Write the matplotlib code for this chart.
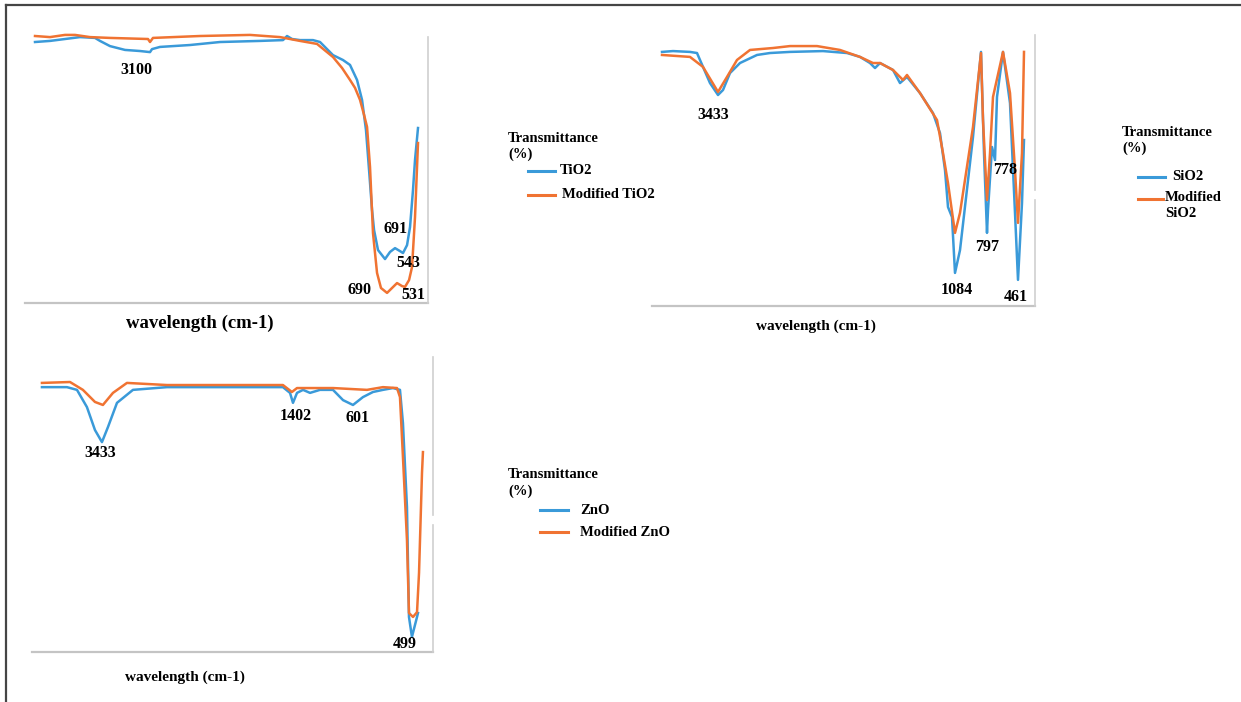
import matplotlib
matplotlib.use("Agg")
import matplotlib.pyplot as plt
from matplotlib.lines import Line2D

plt.rcParams['font.family'] = ['Liberation Serif', 'DejaVu Serif']
plt.rcParams['font.weight'] = 'bold'

BLUE = '#3a9ad9'
ORANGE = '#f07332'

# ---- TiO2 (wavenumber cm-1, transmittance %) ----
tio2_wn = [4000, 3859, 3718, 3577, 3436, 3389, 3295, 3154, 3013, 2919, 2900, 2825,
           2543, 2261, 1885, 1669, 1631, 1584, 1509, 1387, 1321, 1199, 1105, 1039,
           973, 926, 889, 860, 832, 813, 776, 710, 663, 616, 569, 541, 503, 475,
           447, 428, 400]
tio2_t = [95.6, 96.0, 96.7, 97.4, 97.1, 96.0, 94.1, 92.7, 92.3, 91.9, 93.0, 93.8,
          94.5, 95.6, 96.0, 96.3, 97.8, 96.7, 96.3, 96.3, 95.6, 90.8, 89.0, 87.2,
          81.7, 74.4, 63.4, 48.7, 34.1, 26.7, 19.4, 16.1, 18.7, 20.1, 19.0, 18.3,
          21.2, 27.8, 41.4, 52.4, 64.1]
mtio2_wn = [4000, 3859, 3718, 3624, 3483, 3295, 2938, 2919, 2891, 2449, 1979, 1697,
            1509, 1349, 1199, 1114, 1039, 992, 945, 907, 879, 851, 823, 785, 748,
            691, 644, 597, 550, 522, 484, 456, 428, 400]
mtio2_t = [97.8, 97.4, 98.2, 98.2, 97.4, 97.1, 96.7, 95.6, 97.1, 97.8, 98.2, 97.4,
           96.0, 94.9, 90.1, 86.1, 81.7, 78.8, 74.4, 68.9, 64.5, 49.8, 25.6, 11.0,
           5.5, 3.7, 5.5, 7.3, 6.2, 5.9, 8.4, 13.2, 31.5, 58.6]
tio2_peaks = [('3100', 3051, 85.3), ('691', 607, 27.1), ('543', 494, 14.7),
              ('690', 954, 4.8), ('531', 447, 2.9)]

# ---- SiO2 ----
sio2_wn = [4000, 3890, 3720, 3650, 3590, 3520, 3440, 3390, 3320, 3220, 3050, 2920,
           2720, 2390, 2150, 2020, 1920, 1870, 1820, 1690, 1620, 1550, 1420, 1290,
           1220, 1170, 1140, 1100, 1070, 1020, 890, 810, 780, 750, 740, 700, 670,
           650, 590, 520, 470, 440, 400, 380]
sio2_t = [91.4, 91.7, 91.4, 91.0, 86.0, 80.2, 75.9, 77.7, 83.8, 87.4, 90.3, 91.0,
          91.4, 91.7, 91.0, 89.6, 87.4, 85.6, 87.4, 84.9, 80.2, 82.4, 76.6, 69.4,
          62.2, 48.9, 35.6, 32.0, 11.9, 20.1, 60.8, 91.4, 55.0, 26.3, 34.5, 57.2,
          52.5, 75.2, 91.4, 73.0, 33.5, 9.4, 37.1, 59.7]
msio2_wn = [4000, 3720, 3590, 3440, 3350, 3250, 3120, 2890, 2720, 2450, 2220, 2020,
            1890, 1820, 1690, 1590, 1550, 1420, 1250, 1190, 1140, 1070, 1020, 890,
            810, 790, 750, 720, 690, 590, 520, 470, 440, 400, 380]
msio2_t = [90.3, 89.6, 86.0, 77.0, 82.4, 88.5, 92.1, 92.8, 93.5, 93.5, 92.1, 89.6,
           87.4, 87.4, 84.9, 81.3, 83.1, 76.6, 66.9, 55.0, 44.2, 26.3, 33.5, 64.4,
           91.0, 66.9, 38.1, 55.0, 75.2, 91.4, 76.6, 48.9, 29.9, 55.0, 91.4]
sio2_peaks = [('3433', 3490, 68.7), ('1084', 1050, 5.8), ('797', 750, 21.2),
              ('778', 570, 48.9), ('461', 460, 3.2)]

# ---- ZnO ----
zno_wn = [4000, 3764, 3669, 3575, 3499, 3433, 3376, 3291, 3140, 2819, 2195, 1723,
          1656, 1628, 1590, 1533, 1467, 1373, 1250, 1155, 1061, 967, 872, 778,
          683, 617, 589, 551, 532, 504, 456, 447]
zno_t = [87.7, 87.7, 86.8, 81.1, 73.5, 69.5, 74.5, 82.5, 86.8, 87.7, 87.7, 87.7,
         85.8, 82.5, 85.8, 86.8, 85.8, 86.8, 86.8, 83.4, 81.8, 84.4, 86.1, 86.8,
         87.4, 86.8, 75.8, 48.0, 11.6, 5.0, 11.6, 12.9]
mzno_wn = [4000, 3735, 3613, 3499, 3424, 3329, 3197, 2819, 1723, 1638, 1590, 1250,
           929, 778, 645, 617, 589, 551, 532, 494, 456, 437, 409, 400]
mzno_t = [89.1, 89.4, 86.8, 82.8, 81.8, 85.8, 89.1, 88.4, 88.4, 86.1, 87.4, 87.4,
          86.8, 87.7, 87.4, 84.4, 64.6, 37.1, 12.9, 11.6, 13.2, 26.2, 59.3, 66.2]
zno_peaks = [('3433', 3452, 65.9), ('1402', 1600, 78.1), ('601', 1014, 77.5),
             ('499', 570, 2.6)]

W, H = 1241, 702
fig = plt.figure(figsize=(W / 100, H / 100), dpi=100)


def fx(px):
    return px / W


def fy(py):
    return 1 - py / H


def panel(box, xlim, series, peaks, xlabel_xy, xlabel_size, gap=None):
    '''box = (left, top, right, bottom) in pixels'''
    l, t, r, b = box
    ax = fig.add_axes([fx(l), fy(b), (r - l) / W, (b - t) / H])
    for wn, tr, c in series:
        ax.plot(wn, tr, color=c, lw=1.8, solid_joinstyle='round')
    ax.set_xlim(*xlim)
    ax.set_ylim(0, 100)
    for s in ['left', 'top', 'right']:
        ax.spines[s].set_visible(False)
    ax.spines['bottom'].set_color('#c4c4c4')
    ax.spines['bottom'].set_linewidth(1.6)
    ax.set_xticks([])
    ax.set_yticks([])
    for txt, x, y in peaks:
        ax.text(x, y, txt, ha='center', va='center', fontsize=11.5,
                fontweight='bold', clip_on=False)
    # light grey right-hand frame line (broken in some panels)
    top_r = t + 7
    if gap:
        fig.add_artist(Line2D([fx(r), fx(r)], [fy(top_r), fy(gap[0])], color='#cfcfcf', lw=1.2))
        fig.add_artist(Line2D([fx(r), fx(r)], [fy(gap[1]), fy(b)], color='#cfcfcf', lw=1.2))
    else:
        fig.add_artist(Line2D([fx(r), fx(r)], [fy(top_r), fy(b)], color='#cfcfcf', lw=1.2))
    fig.text(fx(xlabel_xy[0]), fy(xlabel_xy[1]), 'wavelength (cm-1)', ha='center',
             va='center', fontsize=xlabel_size, fontweight='bold')
    return ax


def legend_block(x, y, rows):
    '''rows: (color, handle_x0, handle_x1, handle_y, text_x, label)'''
    fig.text(fx(x), fy(y), 'Transmittance', ha='left', va='center', fontsize=10.5)
    fig.text(fx(x), fy(y + 16), '(%)', ha='left', va='center', fontsize=10.5)
    for c, x0, x1, hy, tx, lab in rows:
        fig.add_artist(Line2D([fx(x0), fx(x1)], [fy(hy), fy(hy)], color=c, lw=2.2))
        if '\n' in lab:
            fig.text(fx(tx), fy(hy - 8), lab, ha='left', va='top',
                     fontsize=10.5, linespacing=1.3)
        else:
            fig.text(fx(tx), fy(hy), lab, ha='left', va='center', fontsize=10.5)


panel((25, 30, 428, 303), (4094, 306),
      [(tio2_wn, tio2_t, BLUE), (mtio2_wn, mtio2_t, ORANGE)],
      tio2_peaks, (200, 323), 13.5)
legend_block(508, 138, [(BLUE, 528, 555, 171, 560, 'TiO2'),
                        (ORANGE, 528, 555, 195, 562, 'Modified TiO2')])

panel((652, 28, 1035, 306), (4100, 270),
      [(sio2_wn, sio2_t, BLUE), (msio2_wn, msio2_t, ORANGE)],
      sio2_peaks, (816, 326), 11, gap=(190, 200))
legend_block(1122, 132, [(BLUE, 1138, 1165, 177, 1172, 'SiO2'),
                         (ORANGE, 1138, 1163, 199, 1165, 'Modified\nSiO2')])

panel((32, 350, 433, 652), (4094, 305),
      [(zno_wn, zno_t, BLUE), (mzno_wn, mzno_t, ORANGE)],
      zno_peaks, (185, 677), 11, gap=(515, 525))
legend_block(508, 475, [(BLUE, 540, 568, 510, 580, 'ZnO'),
                        (ORANGE, 540, 568, 532, 580, 'Modified ZnO')])

# outer frame: top and left edges
fig.add_artist(Line2D([fx(6), 1], [fy(5), fy(5)], color='#454545', lw=1.6))
fig.add_artist(Line2D([fx(6), fx(6)], [fy(5), 0], color='#454545', lw=1.6))

fig.savefig('out.png', dpi=100)
